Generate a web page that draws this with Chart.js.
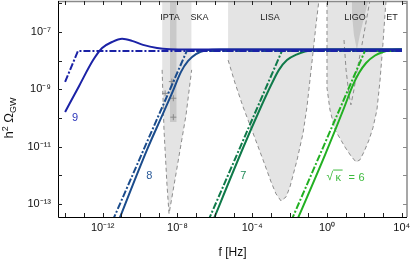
<!DOCTYPE html>
<html>
<head>
<meta charset="utf-8">
<script src="https://cdn.jsdelivr.net/npm/chart.js@4.4.1/dist/chart.umd.min.js"></script>
<style>
  html, body { margin: 0; padding: 0; background: #fff; }
  #wrap { width: 411px; height: 260px; }
</style>
</head>
<body>
<div id="wrap"><canvas id="gw" width="411" height="260"></canvas></div>
<script>
// all numbers below are log10 values
// (f in Hz on x, h^2 Omega_GW on y)

// axis ranges and decade ticks
const xRange = [-14.39, 4.28];
const yRange = [-13.45, -5.92];
const xDecades = [-14, -13, -12, -11, -10, -9, -8, -7, -6, -5, -4, -3, -2, -1, 0, 1, 2, 3, 4];
const xLabelled = [-12, -8, -4, 0, 4];
const yDecades = [-13, -12, -11, -10, -9, -8, -7, -6];
const yLabelled = [-13, -11, -9, -7];

// sqrt(kappa) = 9
const k9SolidF = [-14.01, -13.26, -12.51, -12.03, -11.50, -10.96, -10.43, -9.84, -9.09, -8.40, -7.33, 4.01];
const k9SolidO = [-9.79, -8.88, -7.98, -7.56, -7.35, -7.24, -7.31, -7.45, -7.56, -7.60, -7.61, -7.61];
const k9DashF = [-14.01, -13.32, 4.01];
const k9DashO = [-8.74, -7.66, -7.66];

// sqrt(kappa) = 8
const k8SolidF = [-11.40, -9.63, -8.85, -8.29, -7.81, -7.43, -7.01, -6.47, -5.72, 4.01];
const k8SolidO = [-14.00, -11.11, -9.96, -9.13, -8.39, -8.01, -7.77, -7.64, -7.61, -7.61];
const k8DashF = [-11.75, -7.50, 4.01];
const k8DashO = [-14.00, -7.66, -7.66];

// sqrt(kappa) = 7
const k7SolidF = [-6.36, -4.47, -3.56, -2.99, -2.57, -2.14, -1.60, -1.18, -0.64, 0.13, 4.01];
const k7SolidO = [-14.00, -11.01, -9.65, -8.85, -8.32, -7.98, -7.78, -7.68, -7.63, -7.61, -7.61];
const k7DashF = [-6.63, -2.41, 4.01];
const k7DashO = [-14.00, -7.66, -7.66];

// sqrt(kappa) = 6
const k6SolidF = [-1.89, -0.11, 0.91, 1.34, 1.71, 2.09, 2.57, 2.99, 3.48, 4.01];
const k6SolidO = [-14.00, -11.29, -9.65, -8.92, -8.43, -8.08, -7.82, -7.70, -7.63, -7.61];
const k6DashF = [-2.19, 2.03, 4.01];
const k6DashO = [-14.00, -7.66, -7.66];

// detector sensitivity regions (lower edge, open to the top)
const skaF = [-8.84, -8.82, -8.72, -8.56, -8.45, -8.18, -7.86, -7.54, -7.24, -7.24];
const skaO = [-5.5, -8.32, -10.41, -12.33, -13.34, -12.33, -11.11, -9.89, -8.32, -5.5];
const iptaF = [-8.40, -8.40, -8.04, -8.04];
const iptaO = [-5.5, -10.14, -10.14, -5.5];
const ptaPointsF = [-8.30, -8.66, -8.22, -8.22];
const ptaPointsO = [-8.73, -9.14, -9.31, -9.97];
const lisaF = [-5.29, -5.29, -4.92, -4.49, -3.96, -3.42, -2.99, -2.73, -2.46, -2.19, -1.98, -1.60, -1.28, -1.07, -0.91, -0.75, -0.59, -0.43, -0.37];
const lisaO = [-5.5, -7.98, -8.78, -9.61, -10.52, -11.46, -12.23, -12.64, -12.89, -12.75, -12.40, -11.46, -10.52, -9.61, -8.67, -7.73, -6.76, -5.89, -5.5];
const etF = [0, 0, 0.16, 0.43, 0.96, 1.28, 1.55, 1.76, 1.98, 2.25, 2.46, 2.67, 2.83, 2.99, 3.10, 3.16, 3.18];
const etO = [-5.5, -8.95, -9.72, -10.41, -11.01, -11.32, -11.53, -11.46, -11.18, -10.76, -10.34, -9.72, -8.74, -7.45, -6.41, -5.89, -5.5];
const ligoF = [0.91, 0.91, 1.02, 1.18, 1.28, 1.44, 1.66, 1.87, 2.09, 2.30, 2.33];
const ligoO = [-5.5, -7.28, -8.32, -9.20, -9.54, -9.02, -8.15, -7.45, -6.65, -5.89, -5.5];
const ligoNowF = [1.32, 1.34, 1.44, 1.60, 1.76, 1.98, 2.22, 2.25];
const ligoNowO = [-5.5, -6.41, -7.10, -7.63, -7.10, -6.51, -5.89, -5.5];

const FONT = "'Liberation Sans', Arial, Helvetica, sans-serif";
const C9 = '#1b22a6', C8 = '#1b4c8c', C7 = '#0f7a4a', C6 = '#22b022';
const LIGHT = '#e4e4e4', DARK = '#c9c9c9', EDGE = '#8c8c8c';

// text placed in data space (log10 f, log10 Omega)
const detectorLabels = [
    { text: 'IPTA', f: -8.40, o: -6.48 },
    { text: 'SKA', f: -6.82, o: -6.48 },
    { text: 'LISA', f: -3.05, o: -6.48 },
    { text: 'LIGO', f: 1.50, o: -6.48 },
    { text: 'ET', f: 3.48, o: -6.48 }
];
const curveLabels = [
    { text: '9', f: -13.48, o: -10.0, color: '#2b35bb' },
    { text: '8', f: -9.50, o: -12.02, color: '#2a5a98' },
    { text: '7', f: -4.48, o: -12.02, color: '#218a58' }
];

// =============================
// helpers
// =============================
const SUP = { '-': '\u207B', '0': '\u2070', '1': '\u00B9', '2': '\u00B2', '3': '\u00B3', '4': '\u2074',
              '5': '\u2075', '6': '\u2076', '7': '\u2077', '8': '\u2078', '9': '\u2079' };

function pow10Label(k) {
    return '10' + String(k).split('').map(c => SUP[c]).join('');
}

function pts(fs, os) {
    return fs.map((f, i) => ({ x: Math.pow(10, f), y: Math.pow(10, os[i]) }));
}

function region(fs, os, color, edged, hideEnds, ord) {
    const last = fs.length - 2;
    const ds = {
        data: pts(fs, os),
        fill: 'end',
        backgroundColor: color,
        borderColor: edged ? EDGE : 'rgba(0,0,0,0)',
        borderWidth: 1,
        borderDash: [4, 3],
        pointRadius: 0,
        tension: 0,
        order: ord
    };
    if (hideEnds) {
        ds.segment = {
            borderColor: c => (c.p0DataIndex === 0 || c.p0DataIndex === last) ? 'rgba(0,0,0,0)' : undefined
        };
    }
    return ds;
}

function curve(fs, os, color, dashed, ord) {
    return {
        data: pts(fs, os),
        borderColor: color,
        borderWidth: 2,
        borderDash: dashed ? [7, 2, 2, 2] : [],
        borderCapStyle: 'butt',
        pointRadius: 0,
        fill: false,
        tension: 0,
        cubicInterpolationMode: dashed ? 'default' : 'monotone',
        order: ord
    };
}

function decadeTicks(list) {
    return list.map(k => ({ value: Math.pow(10, k) }));
}

// =============================
// frame, inward ticks and text
// =============================
const decor = {
    id: 'decor',
    afterDatasetsDraw(chart) {
        const ctx = chart.ctx;
        const a = chart.chartArea;
        const xs = chart.scales.x, ys = chart.scales.y;

        ctx.save();
        // detector names
        ctx.font = '9px ' + FONT;
        ctx.fillStyle = '#222';
        ctx.textAlign = 'center';
        ctx.textBaseline = 'middle';
        detectorLabels.forEach(l => {
            ctx.fillText(l.text, xs.getPixelForValue(Math.pow(10, l.f)), ys.getPixelForValue(Math.pow(10, l.o)));
        });

        // curve labels
        ctx.font = '11px ' + FONT;
        curveLabels.forEach(l => {
            ctx.fillStyle = l.color;
            ctx.fillText(l.text, xs.getPixelForValue(Math.pow(10, l.f)), ys.getPixelForValue(Math.pow(10, l.o)));
        });

        // sqrt(kappa) = 6
        const sx = xs.getPixelForValue(Math.pow(10, -0.02));
        const sy = ys.getPixelForValue(Math.pow(10, -12.04));
        ctx.fillStyle = '#3dbb3d';
        ctx.strokeStyle = '#3dbb3d';
        ctx.textAlign = 'left';
        ctx.font = '12px ' + FONT;
        ctx.fillText('\u221A', sx, sy);
        ctx.font = '11px ' + FONT;
        ctx.fillText('\u03BA', sx + 9, sy + 1);
        ctx.fillText('=', sx + 22, sy + 1);
        ctx.fillText('6', sx + 32, sy + 1);
        ctx.lineWidth = 1;
        ctx.beginPath();
        ctx.moveTo(sx + 6.5, sy - 6.5);
        ctx.lineTo(sx + 16, sy - 6.5);
        ctx.stroke();

        // frame
        ctx.lineWidth = 1.5;
        ctx.strokeStyle = '#8a8a8a';
        ctx.beginPath();
        ctx.moveTo(a.left, a.top + 0.5);
        ctx.lineTo(a.right, a.top + 0.5);
        ctx.lineTo(a.right, a.bottom);
        ctx.stroke();
        ctx.lineWidth = 1;
        ctx.strokeStyle = '#000';
        ctx.beginPath();
        ctx.moveTo(a.left + 0.5, a.top);
        ctx.lineTo(a.left + 0.5, a.bottom + 0.5);
        ctx.lineTo(a.right, a.bottom + 0.5);
        ctx.stroke();

        // inward ticks
        ctx.strokeStyle = '#222';
        ctx.beginPath();
        xDecades.forEach(k => {
            const px = Math.round(xs.getPixelForValue(Math.pow(10, k))) + 0.5;
            ctx.moveTo(px, a.bottom); ctx.lineTo(px, a.bottom - 4);
            ctx.moveTo(px, a.top); ctx.lineTo(px, a.top + 4);
        });
        yDecades.forEach(k => {
            const py = Math.round(ys.getPixelForValue(Math.pow(10, k))) + 0.5;
            ctx.moveTo(a.left, py); ctx.lineTo(a.left + 4, py);
        });
        ctx.stroke();
        ctx.strokeStyle = '#8a8a8a';
        ctx.beginPath();
        yDecades.forEach(k => {
            const py = Math.round(ys.getPixelForValue(Math.pow(10, k))) + 0.5;
            ctx.moveTo(a.right, py); ctx.lineTo(a.right - 4, py);
        });
        ctx.stroke();

        // y title: h^2 Omega_GW
        ctx.translate(13, 118);
        ctx.rotate(-Math.PI / 2);
        ctx.fillStyle = '#111';
        ctx.textAlign = 'left';
        ctx.textBaseline = 'alphabetic';
        const parts = [['h', 13, 0], ['2', 9, -5], [' \u03A9', 13, 0], ['GW', 9, 3]];
        let w = 0;
        parts.forEach(p => { ctx.font = p[1] + 'px ' + FONT; w += ctx.measureText(p[0]).width; });
        let x = -w / 2;
        parts.forEach(p => {
            ctx.font = p[1] + 'px ' + FONT;
            ctx.fillText(p[0], x, p[2]);
            x += ctx.measureText(p[0]).width;
        });
        ctx.restore();
    }
};

// =============================
// chart
// =============================
Chart.defaults.font.family = FONT;

const datasets = [
    curve(k9SolidF, k9SolidO, C9, false, 0),
    curve(k9DashF, k9DashO, C9, true, 1),
    curve(k8SolidF, k8SolidO, C8, false, 2),
    curve(k8DashF, k8DashO, C8, true, 3),
    curve(k7SolidF, k7SolidO, C7, false, 4),
    curve(k7DashF, k7DashO, C7, true, 5),
    curve(k6SolidF, k6SolidO, C6, false, 6),
    curve(k6DashF, k6DashO, C6, true, 7),
    {
        data: pts(ptaPointsF, ptaPointsO),
        showLine: false,
        pointStyle: 'cross',
        pointRadius: 3,
        pointBorderColor: '#8a8a8a',
        pointBorderWidth: 1,
        order: 8
    },
    region(iptaF, iptaO, DARK, false, false, 9),
    region(skaF, skaO, LIGHT, true, true, 10),
    region(lisaF, lisaO, LIGHT, true, true, 11),
    region(ligoNowF, ligoNowO, DARK, false, false, 12),
    region(ligoF, ligoO, 'rgba(0,0,0,0)', true, true, 13),
    region(etF, etO, LIGHT, true, false, 14)
];

new Chart(document.getElementById('gw'), {
    type: 'line',
    data: { datasets: datasets },
    options: {
        responsive: false,
        devicePixelRatio: 1,
        animation: false,
        events: [],
        layout: { autoPadding: false, padding: { top: 1, right: 4, left: 0, bottom: 0 } },
        plugins: {
            legend: { display: false },
            tooltip: { enabled: false }
        },
        scales: {
            x: {
                type: 'logarithmic',
                min: Math.pow(10, xRange[0]),
                max: Math.pow(10, xRange[1]),
                afterBuildTicks: s => { s.ticks = decadeTicks(xDecades); },
                afterFit: s => { s.height = 43; s.paddingLeft = 0; s.paddingRight = 0; },
                grid: { display: false, drawTicks: false },
                border: { display: false },
                ticks: {
                    autoSkip: false,
                    maxRotation: 0,
                    padding: 4,
                    color: '#111',
                    font: { size: 11 },
                    callback: v => {
                        const k = Math.round(Math.log10(v));
                        return xLabelled.includes(k) ? pow10Label(k) : '';
                    }
                },
                title: { display: true, text: 'f [Hz]', color: '#111', font: { size: 12 }, padding: 0 }
            },
            y: {
                type: 'logarithmic',
                min: Math.pow(10, yRange[0]),
                max: Math.pow(10, yRange[1]),
                afterBuildTicks: s => { s.ticks = decadeTicks(yDecades); },
                afterFit: s => { s.width = 58; s.paddingTop = 0; s.paddingBottom = 0; },
                grid: { display: false, drawTicks: false },
                border: { display: false },
                ticks: {
                    autoSkip: false,
                    padding: 7,
                    color: '#111',
                    font: { size: 11 },
                    callback: v => {
                        const k = Math.round(Math.log10(v));
                        return yLabelled.includes(k) ? pow10Label(k) : '';
                    }
                }
            }
        }
    },
    plugins: [decor]
});
</script>
</body>
</html>
